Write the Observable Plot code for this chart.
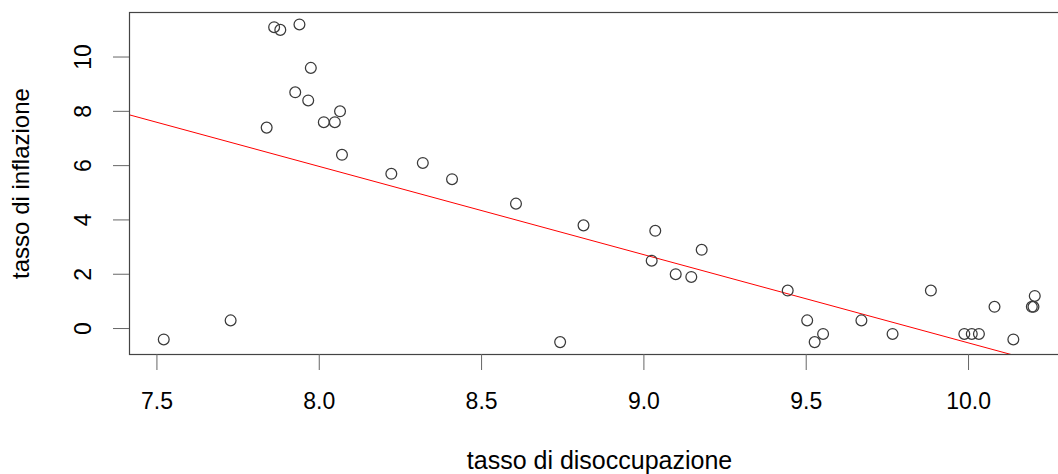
<!DOCTYPE html>
<html>
<head>
<meta charset="utf-8">
<script src="https://cdn.jsdelivr.net/npm/d3@7"></script>
<script src="https://cdn.jsdelivr.net/npm/@observablehq/plot@0.6"></script>
<style>
  html, body { margin: 0; padding: 0; background: #fff; overflow: hidden; }
  #chart svg { display: block; max-width: none !important; }
</style>
</head>
<body>
<div id="chart"></div>
<script>
// Data
const unemployment = [7.861, 7.880, 7.939, 7.974, 7.926, 7.966, 8.064, 8.014, 8.048, 7.838,
  8.070, 8.222, 8.319, 8.409, 8.606, 8.814, 9.035, 9.024, 9.178, 9.098, 9.146, 9.443,
  8.742, 7.521, 7.727, 9.503, 9.552, 9.526, 9.670, 9.766, 9.884, 9.987, 10.010, 10.032,
  10.080, 10.138, 10.204, 10.195, 10.200];
const inflation = [11.1, 11.0, 11.2, 9.6, 8.7, 8.4, 8.0, 7.6, 7.6, 7.4,
  6.4, 5.7, 6.1, 5.5, 4.6, 3.8, 3.6, 2.5, 2.9, 2.0, 1.9, 1.4,
  -0.5, -0.4, 0.3, 0.3, -0.2, -0.5, 0.3, -0.2, 1.4, -0.2, -0.2, -0.2,
  0.8, -0.4, 1.2, 0.8, 0.8];
const xTicks = [7.5, 8.0, 8.5, 9.0, 9.5, 10.0];
const yTicks = [0, 2, 4, 6, 8, 10];
const xTitle = "tasso di disoccupazione";
const yTitle = "tasso di inflazione";
// fitted line coefficients (abline of lm)
const intercept = 31.97;
const slope = -3.25;

const xDomain = [7.4155, 10.311];
const yDomain = [-0.956, 11.64];

const points = unemployment.map((u, i) => ({u, inf: inflation[i]}));
const fit = xDomain.map(u => ({u, inf: intercept + slope * u}));

const font = "'Liberation Sans', Arial, sans-serif";

const chart = Plot.plot({
  width: 1080,
  height: 474,
  marginLeft: 129,
  marginRight: 11,
  marginTop: 12,
  marginBottom: 120,
  style: {fontFamily: font, background: "#fff", color: "#000", maxWidth: "none"},
  x: {domain: xDomain, axis: null},
  y: {domain: yDomain, axis: null},
  marks: [
    Plot.line(fit, {x: "u", y: "inf", stroke: "#ff0000", strokeWidth: 1, clip: true}),
    Plot.dot(points, {x: "u", y: "inf", r: 5.4, stroke: "#3a3a3a", strokeWidth: 1.25, fill: "none"}),
    Plot.frame({stroke: "#444", strokeWidth: 1.2}),
    Plot.axisX({ticks: xTicks, tickSize: 16, tickPadding: 22, stroke: "#666", fill: "#000",
      tickFormat: d => d.toFixed(1), fontSize: 23, label: null}),
    Plot.axisY({ticks: yTicks, tickSize: 16, stroke: "#666", tickFormat: () => "", label: null}),
    Plot.text(yTicks, {y: d => d, text: d => String(d), frameAnchor: "left", dx: -45.5,
      rotate: -90, textAnchor: "middle", lineAnchor: "middle", fontSize: 23, fill: "#000"}),
    Plot.text([xTitle], {text: d => d, frameAnchor: "bottom", dy: 114, lineAnchor: "bottom",
      textAnchor: "middle", fontSize: 25, fill: "#000"}),
    Plot.text([yTitle], {text: d => d, frameAnchor: "left", dx: -101, rotate: -90,
      lineAnchor: "bottom", textAnchor: "middle", fontSize: 24, fill: "#000"})
  ]
});
document.getElementById("chart").appendChild(chart);
</script>
</body>
</html>
